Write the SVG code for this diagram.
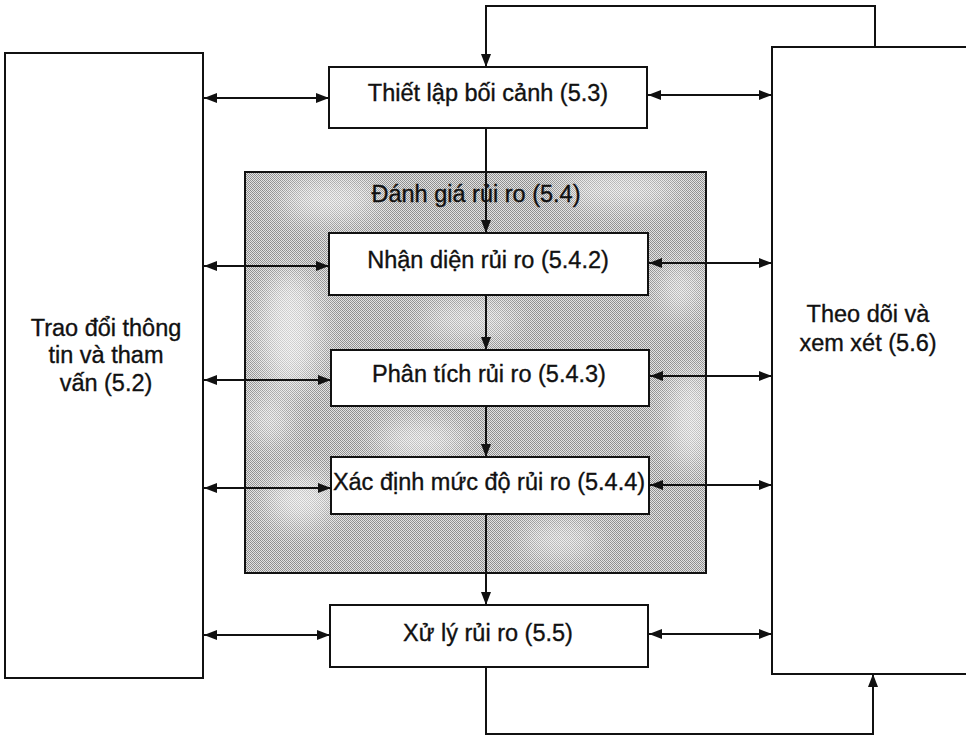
<svg xmlns="http://www.w3.org/2000/svg" width="966" height="736" viewBox="0 0 966 736">
<style>
.box{fill:#fff;stroke:#111;stroke-width:2}
.t{font-family:"Liberation Sans",Arial,sans-serif;font-size:23.5px;fill:#111;stroke:#111;stroke-width:0.35;text-anchor:middle}
.c{fill:none;stroke:#111;stroke-width:2}
</style>
<defs>
<marker id="ah" viewBox="0 0 13 10" refX="13" refY="5" markerWidth="13" markerHeight="10" markerUnits="userSpaceOnUse" orient="auto-start-reverse">
<path d="M0,0 L13,5 L0,10 z" fill="#111"/>
</marker>
<pattern id="dots" width="4" height="4" patternUnits="userSpaceOnUse">
<rect width="4" height="4" fill="#e2e2e2"/>
<rect x="0" y="0" width="1" height="1" fill="#8a8a8a"/>
<rect x="2" y="0" width="1" height="1" fill="#969696"/>
<rect x="1" y="1" width="1" height="1" fill="#8e8e8e"/>
<rect x="3" y="1" width="1" height="1" fill="#9a9a9a"/>
<rect x="0" y="2" width="1" height="1" fill="#949494"/>
<rect x="2" y="2" width="1" height="1" fill="#868686"/>
<rect x="1" y="3" width="1" height="1" fill="#989898"/>
<rect x="3" y="3" width="1" height="1" fill="#8c8c8c"/>
</pattern>
<filter id="blur" x="-50%" y="-50%" width="200%" height="200%">
<feGaussianBlur stdDeviation="14"/>
</filter>
<clipPath id="clipShade"><rect x="245" y="172" width="461" height="401"/></clipPath>
</defs>

<g id="assessment">
<rect x="245" y="172" width="461" height="401" fill="url(#dots)"/>
<g clip-path="url(#clipShade)" filter="url(#blur)" fill="#fff" opacity="0.6">
<ellipse cx="290" cy="330" rx="30" ry="60"/>
<ellipse cx="300" cy="500" rx="35" ry="25"/>
<ellipse cx="690" cy="420" rx="20" ry="50"/>
<ellipse cx="420" cy="440" rx="45" ry="18"/>
<ellipse cx="560" cy="540" rx="40" ry="15"/>
<ellipse cx="470" cy="320" rx="50" ry="14"/>
<ellipse cx="620" cy="190" rx="60" ry="15"/>
<ellipse cx="330" cy="200" rx="50" ry="18"/>
<ellipse cx="680" cy="290" rx="18" ry="25"/>
<ellipse cx="270" cy="420" rx="18" ry="25"/>
</g>
<rect x="245" y="172" width="461" height="401" fill="none" stroke="#111" stroke-width="2"/>
<text class="t" x="476" y="202">Đánh giá rủi ro (5.4)</text>
</g>

<g id="communication">
<rect class="box" x="5" y="53" width="198" height="625"/>
<text class="t" x="106" y="336">Trao đổi thông</text>
<text class="t" x="106" y="363">tin và tham</text>
<text class="t" x="106" y="391">vấn (5.2)</text>
</g>

<g id="monitoring">
<rect class="box" x="772" y="47" width="200" height="627"/>
<text class="t" x="868" y="322">Theo dõi và</text>
<text class="t" x="868" y="351">xem xét (5.6)</text>
</g>

<g id="context">
<rect class="box" x="329" y="67" width="318" height="61"/>
<text class="t" x="488" y="101">Thiết lập bối cảnh (5.3)</text>
</g>

<g id="identification">
<rect class="box" x="329" y="233" width="319" height="62"/>
<text class="t" x="488" y="268">Nhận diện rủi ro (5.4.2)</text>
</g>

<g id="analysis">
<rect class="box" x="331" y="350" width="318" height="56"/>
<text class="t" x="489" y="382">Phân tích rủi ro (5.4.3)</text>
</g>

<g id="evaluation">
<rect class="box" x="331" y="457" width="318" height="57"/>
<text class="t" x="489" y="490">Xác định mức độ rủi ro (5.4.4)</text>
</g>

<g id="treatment">
<rect class="box" x="330" y="605" width="318" height="62"/>
<text class="t" x="488" y="641">Xử lý rủi ro (5.5)</text>
</g>

<g id="connectors">
<path class="c" d="M486,128 V233" marker-end="url(#ah)"/>
<path class="c" d="M486,295 V350" marker-end="url(#ah)"/>
<path class="c" d="M486,406 V457" marker-end="url(#ah)"/>
<path class="c" d="M486,514 V605" marker-end="url(#ah)"/>
<path class="c" d="M875,47 V6 H486 V67" marker-end="url(#ah)"/>
<path class="c" d="M486,667 V734 H873 V674" marker-end="url(#ah)"/>

<path class="c" d="M204,98 H329" marker-start="url(#ah)" marker-end="url(#ah)"/>
<path class="c" d="M204,266 H329" marker-start="url(#ah)" marker-end="url(#ah)"/>
<path class="c" d="M204,380 H331" marker-start="url(#ah)" marker-end="url(#ah)"/>
<path class="c" d="M204,488 H331" marker-start="url(#ah)" marker-end="url(#ah)"/>
<path class="c" d="M204,635 H330" marker-start="url(#ah)" marker-end="url(#ah)"/>

<path class="c" d="M648,95 H772" marker-start="url(#ah)" marker-end="url(#ah)"/>
<path class="c" d="M649,263 H772" marker-start="url(#ah)" marker-end="url(#ah)"/>
<path class="c" d="M650,376 H772" marker-start="url(#ah)" marker-end="url(#ah)"/>
<path class="c" d="M650,485 H772" marker-start="url(#ah)" marker-end="url(#ah)"/>
<path class="c" d="M649,634 H772" marker-start="url(#ah)" marker-end="url(#ah)"/>
</g>
</svg>
